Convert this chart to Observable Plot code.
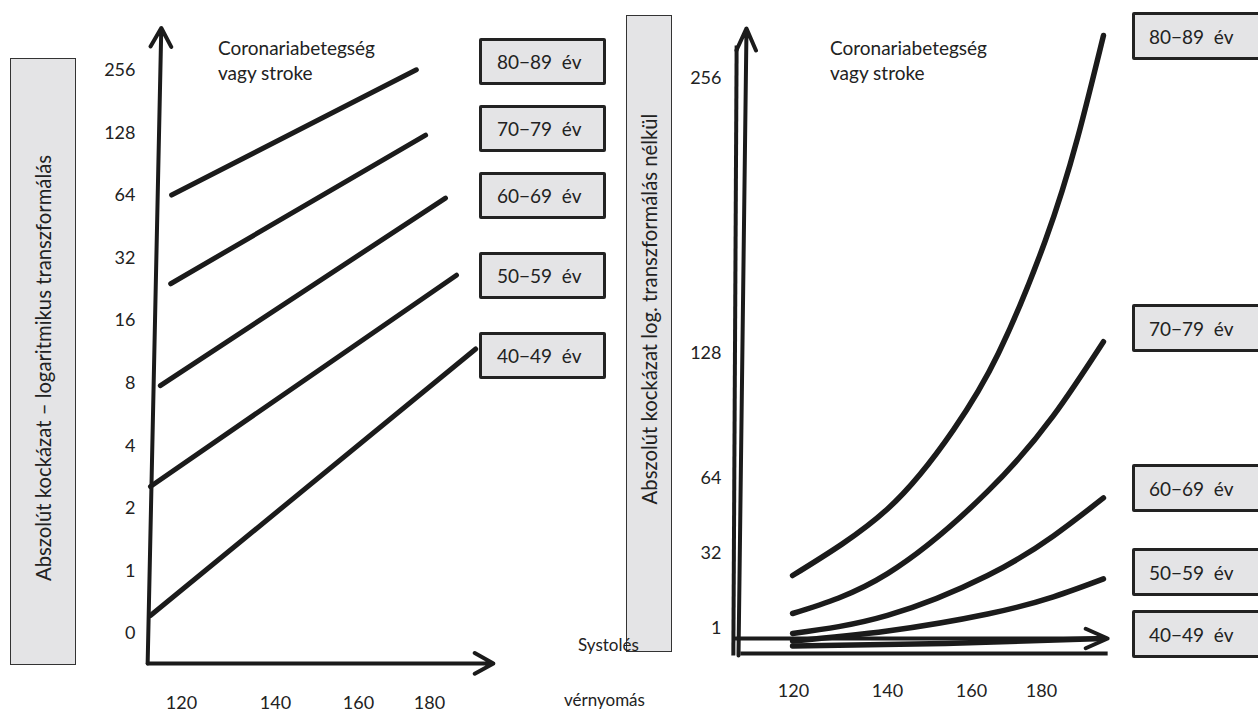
<!DOCTYPE html>
<html><head><meta charset="utf-8">
<script src="https://cdn.jsdelivr.net/npm/d3@7"></script>
<script src="https://cdn.jsdelivr.net/npm/@observablehq/plot@0.6"></script>
<style>
html,body{margin:0;padding:0;background:#fff;overflow:hidden}
#wrap{position:relative;width:1258px;height:714px;overflow:hidden;font-family:Lato,sans-serif;color:#222}
#wrap svg{position:absolute;left:0;top:0}
.vbox{position:absolute;background:#e4e4e6;border:1.5px solid #333;box-sizing:border-box}
.vbox span{position:absolute;left:50%;transform:translate(-50%,-50%) rotate(-90deg);white-space:nowrap;font-size:20.3px}
.lbox{position:absolute;background:#e4e4e6;border:3px solid #222;box-sizing:border-box;border-radius:2px;font-size:19px;display:flex;align-items:center;white-space:pre}
.note{position:absolute;font-size:19px;white-space:nowrap}
</style>
</head><body>
<div id="wrap"></div>
<script>
// ---------- data ----------
const ageGroups = ["80−89 év", "70−79 év", "60−69 év", "50−59 év", "40−49 év"];
const sbpTicks = [120, 140, 160, 180];
const sbpTickLabels = ["120", "140", "160", "180"];
const logTickValues = [0.5, 1, 2, 4, 8, 16, 32, 64, 128, 256];
const logTickLabels = ["0", "1", "2", "4", "8", "16", "32", "64", "128", "256"];
const linTickValues = [1, 32, 64, 128, 256];
const linTickLabels = ["1", "32", "64", "128", "256"];

// left panel (log scale): straight lines, start and end per age group
const logStartSbp = [117.9, 117.7, 115.5, 113.4, 113.4];
const logEndSbp = [176.3, 178.9, 184.5, 187.6, 193.0];
const logStartRisk = [64.4, 24.1, 7.8, 2.55, 0.61];
const logEndRisk = [258, 125, 62.3, 26.5, 11.7];

// right panel (no log transform): curves per age group
const linSbp80 = [119.8, 140, 155.7, 167.7, 181.1, 190.3, 197.7];
const linRisk80 = [22.9, 51.0, 88.9, 128.1, 180.6, 228.3, 276.0];
const linSbp70 = [119.8, 140, 164.6, 183.4, 197.7];
const linRisk70 = [7.2, 23.7, 58.5, 96.2, 133.5];
const linSbp60 = [119.8, 140, 164.6, 183.4, 197.7];
const linRisk60 = [0.8, 6.4, 22.9, 39.5, 55.7];
const linSbp50 = [119.8, 140, 164.6, 183.4, 197.7];
const linRisk50 = [0.5, 0.9, 7.0, 14.1, 21.5];
const linSbp40 = [119.8, 153.8, 197.7];
const linRisk40 = [0.3, 0.4, 0.6];

// hand-drawn axis arrows (data units)
const leftAxisSbp1 = [112.8, 112.8];
const leftAxisRisk1 = [0.359, 0.359];
const leftAxisSbp2 = [115.7, 198.0];
const leftAxisRisk2 = [410, 0.359];
const rightArrowSbp1 = [108.3, 107.7];
const rightArrowRisk1 = [-0.08, 0.6];
const rightArrowSbp2 = [110.0, 198.9];
const rightArrowRisk2 = [279.3, 0.6];
const rightRuleSbp1 = [107.2, 108.7];
const rightRuleRisk1 = [-0.08, 0];
const rightRuleSbp2 = [107.9, 198.9];
const rightRuleRisk2 = [271.4, 0];

// ---------- build tables ----------
const leftRows = ageGroups.flatMap((g, i) => [
  {g, sbp: logStartSbp[i], risk: logStartRisk[i]},
  {g, sbp: logEndSbp[i], risk: logEndRisk[i]}
]);
const linSeries = [[linSbp80, linRisk80], [linSbp70, linRisk70], [linSbp60, linRisk60], [linSbp50, linRisk50], [linSbp40, linRisk40]];
const rightRows = linSeries.flatMap(([xs, ys], i) => xs.map((x, j) => ({g: ageGroups[i], sbp: x, risk: ys[j]})));
const seg = (a1, b1, a2, b2) => a1.map((_, i) => ({x1: a1[i], y1: b1[i], x2: a2[i], y2: b2[i]}));
const leftAxes = seg(leftAxisSbp1, leftAxisRisk1, leftAxisSbp2, leftAxisRisk2);
const rightArrows = seg(rightArrowSbp1, rightArrowRisk1, rightArrowSbp2, rightArrowRisk2);
const rightRules = seg(rightRuleSbp1, rightRuleRisk1, rightRuleSbp2, rightRuleRisk2);

// the schematic axes are unevenly spaced: piecewise scale transforms
const leftXWarp = d3.scaleLinear().domain(sbpTicks).range([0, 94, 177, 248]);
const rightXWarp = d3.scaleLinear().domain(sbpTicks).range([0, 94, 178, 248]);
const rightYWarp = d3.scaleLinear().domain([0, 1, 32, 64, 128, 256]).range([0, 25, 100, 175, 300, 575]);
// axis ticks are given in transformed units; labels are looked up from the arrays
const labelFor = (warp, values, labels) => t => labels[values.findIndex(v => Math.abs(warp(v) - t) < 1e-6)];

const ink = "#1b1b1b";
const baseStyle = {background: "none", fontFamily: "Lato, sans-serif", fontSize: "18px", color: "#222", overflow: "visible"};

const left = Plot.plot({
  width: 1258, height: 714,
  marginLeft: 138, marginBottom: 21,
  style: baseStyle,
  x: {transform: d => leftXWarp(d), domain: [0, 248], range: [181, 429], ticks: sbpTicks.map(leftXWarp),
      tickFormat: labelFor(leftXWarp, sbpTicks, sbpTickLabels), tickSize: 0, tickPadding: 3, label: null},
  y: {type: "log", base: 2, domain: [0.5, 256], range: [633, 70], ticks: logTickValues,
      tickFormat: d => logTickLabels[logTickValues.indexOf(d)], tickSize: 0, tickPadding: 3, label: null},
  marks: [
    Plot.line(leftRows, {x: "sbp", y: "risk", z: "g", stroke: ink, strokeWidth: 5, strokeLinecap: "round"}),
    Plot.arrow(leftAxes, {x1: "x1", y1: "y1", x2: "x2", y2: "y2", stroke: ink, strokeWidth: 4, headLength: 8, headAngle: 58})
  ]
});

const right = Plot.plot({
  width: 1258, height: 714,
  marginLeft: 724, marginBottom: 33,
  style: baseStyle,
  x: {transform: d => rightXWarp(d), domain: [0, 248], range: [793, 1041], ticks: sbpTicks.map(rightXWarp),
      tickFormat: labelFor(rightXWarp, sbpTicks, sbpTickLabels), tickSize: 0, tickPadding: 3, label: null},
  y: {transform: d => rightYWarp(d), domain: [0, 575], range: [653, 78], ticks: linTickValues.map(rightYWarp),
      tickFormat: labelFor(rightYWarp, linTickValues, linTickLabels), tickSize: 0, tickPadding: 3, label: null},
  marks: [
    Plot.line(rightRows, {x: "sbp", y: "risk", z: "g", stroke: ink, strokeWidth: 5.5, curve: "natural", strokeLinecap: "round"}),
    Plot.link(rightRules, {x1: "x1", y1: "y1", x2: "x2", y2: "y2", stroke: ink, strokeWidth: 4}),
    Plot.arrow(rightArrows, {x1: "x1", y1: "y1", x2: "x2", y2: "y2", stroke: ink, strokeWidth: 4, headLength: 9, headAngle: 48})
  ]
});

const wrap = document.getElementById("wrap");
wrap.append(left, right);

function add(cls, css, html) {
  const d = document.createElement("div");
  d.className = cls;
  Object.assign(d.style, css);
  d.innerHTML = html;
  wrap.append(d);
  return d;
}
// vertical axis title boxes
add("vbox", {left: "10px", top: "58px", width: "66px", height: "607px"}, "<span style='top:309px'>Abszolút kockázat – logaritmikus transzformálás</span>");
add("vbox", {left: "626px", top: "15px", width: "46px", height: "637px"}, "<span style='top:293px'>Abszolút kockázat log. transzformálás nélkül</span>");
// chart notes
add("note", {left: "218px", top: "35px", lineHeight: "25px"}, "Coronariabetegség<br>vagy stroke");
add("note", {left: "830px", top: "35px", lineHeight: "25px"}, "Coronariabetegség<br>vagy stroke");
add("note", {left: "578px", top: "634px", fontSize: "17px"}, "Systolés");
add("note", {left: "564px", top: "689px", fontSize: "17px"}, "vérnyomás");
// age-group legend boxes
const leftBoxTops = [38, 105, 172, 252, 332];
const rightBoxTops = [12, 304, 464, 548, 610];
ageGroups.forEach((g, i) => {
  add("lbox", {left: "479px", top: leftBoxTops[i] + "px", width: "127px", height: "47px", paddingLeft: "15px"}, g.replace(" ", "  "));
  add("lbox", {left: "1132px", top: rightBoxTops[i] + "px", width: "150px", height: "48px", paddingLeft: "14px"}, g.replace(" ", "  "));
});
</script>
</body></html>
